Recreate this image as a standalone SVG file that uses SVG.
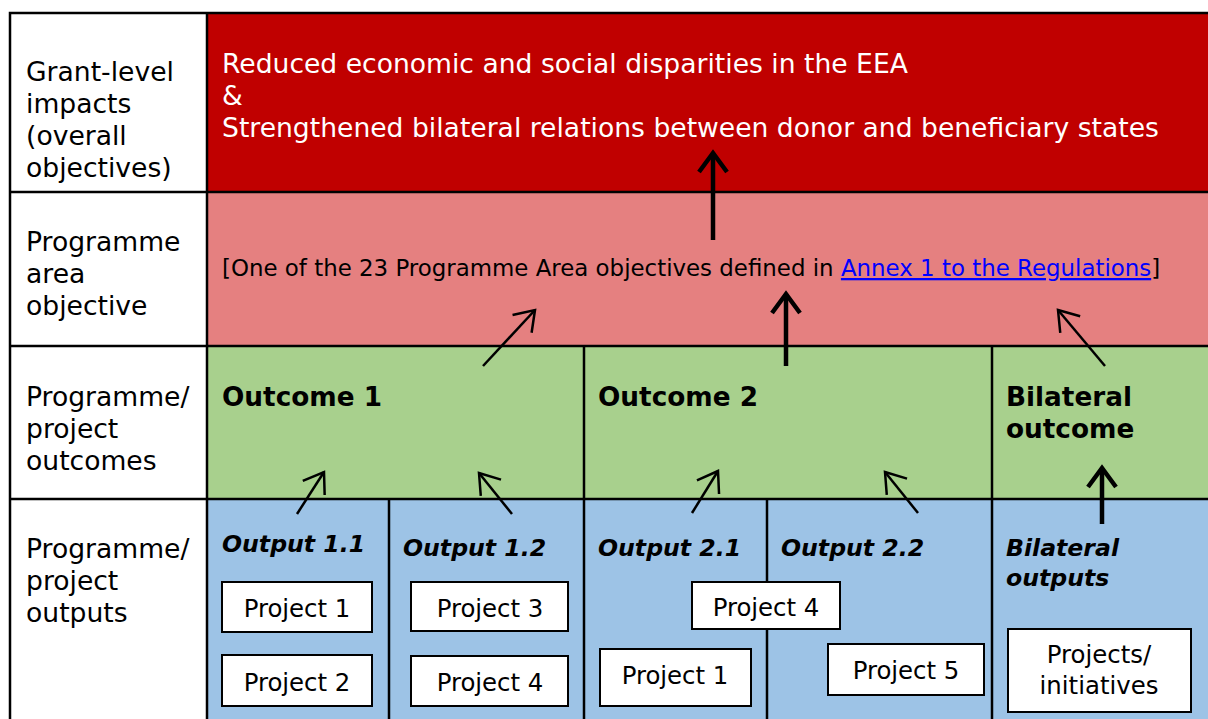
<svg xmlns="http://www.w3.org/2000/svg" width="1208" height="719" viewBox="0 0 1208 719">
<style>
.lbl{font-family:"DejaVu Sans","Liberation Sans",sans-serif;font-size:26.6px;fill:#000}
.hdr{font-family:"DejaVu Sans","Liberation Sans",sans-serif;font-size:26.6px;fill:#fff}
.pa{font-family:"DejaVu Sans","Liberation Sans",sans-serif;font-size:22.9px;fill:#000}
.link{fill:#0000ff;text-decoration:underline}
.bold{font-family:"DejaVu Sans","Liberation Sans",sans-serif;font-size:26.3px;font-weight:bold;fill:#000}
.bi{font-family:"DejaVu Sans","Liberation Sans",sans-serif;font-size:23.6px;font-weight:bold;font-style:italic;fill:#000}
.proj{font-family:"DejaVu Sans","Liberation Sans",sans-serif;font-size:24.4px;fill:#000;text-anchor:middle}
.box{fill:#fff;stroke:#000;stroke-width:2}
.grid{stroke:#000;stroke-width:2.5;fill:none}
.thin{stroke:#000;stroke-width:2.5;fill:none;marker-end:url(#ah)}
.thick{stroke:#000;stroke-width:4.5;fill:none;marker-end:url(#ahk)}
</style>
<defs>
<marker id="ah" markerUnits="userSpaceOnUse" viewBox="-25 -16 30 32" refX="0" refY="0" markerWidth="30" markerHeight="32" orient="auto" overflow="visible">
<path d="M-19,-13 L0,0 L-19,13" fill="none" stroke="#000" stroke-width="2.5"/>
</marker>
<marker id="ahk" markerUnits="userSpaceOnUse" viewBox="-25 -16 30 32" refX="0" refY="0" markerWidth="30" markerHeight="32" orient="auto" overflow="visible">
<path d="M-19,-14 L0,0 L-19,14" fill="none" stroke="#000" stroke-width="4.5"/>
</marker>
</defs>
<rect width="1208" height="719" fill="#fff"/>
<g id="bands">
<rect x="207" y="13" width="1001" height="179" fill="#C00000"/>
<rect x="207" y="192" width="1001" height="154" fill="#E58080"/>
<rect x="207" y="346" width="1001" height="153" fill="#A8D08D"/>
<rect x="207" y="499" width="1001" height="220" fill="#9DC3E6"/>
</g>
<g id="gridlines">
<path class="grid" d="M1208,13 H10 V719 M207,13 V719 M10,192 H1208 M10,346 H1208 M10,499 H1208 M584,346 V719 M992,346 V719 M389,499 V719 M767,499 V719"/>
</g>
<g id="row-labels">
<text class="lbl" x="26" y="81">Grant-level</text>
<text class="lbl" x="26" y="113">impacts</text>
<text class="lbl" x="26" y="145">(overall</text>
<text class="lbl" x="26" y="177">objectives)</text>
<text class="lbl" x="26" y="251">Programme</text>
<text class="lbl" x="26" y="283">area</text>
<text class="lbl" x="26" y="315">objective</text>
<text class="lbl" x="26" y="406">Programme/</text>
<text class="lbl" x="26" y="438">project</text>
<text class="lbl" x="26" y="470">outcomes</text>
<text class="lbl" x="26" y="558">Programme/</text>
<text class="lbl" x="26" y="590">project</text>
<text class="lbl" x="26" y="622">outputs</text>
</g>
<g id="impact">
<text class="hdr" x="222" y="73">Reduced economic and social disparities in the EEA</text>
<text class="hdr" x="222" y="105">&amp;</text>
<text class="hdr" x="222" y="137">Strengthened bilateral relations between donor and beneficiary states</text>
</g>
<g id="pa-objective">
<text class="pa" x="222" y="276">[One of the 23 Programme Area objectives defined in <tspan class="link">Annex 1 to the Regulations</tspan>]</text>
</g>
<g id="outcome1"><text class="bold" x="222" y="406">Outcome 1</text></g>
<g id="outcome2"><text class="bold" x="598" y="406">Outcome 2</text></g>
<g id="bilateral-outcome"><text class="bold" x="1006" y="406">Bilateral</text><text class="bold" x="1006" y="438">outcome</text></g>
<g id="output11"><text class="bi" x="222" y="552">Output 1.1</text></g>
<g id="output12"><text class="bi" x="403" y="556">Output 1.2</text></g>
<g id="output21"><text class="bi" x="598" y="556">Output 2.1</text></g>
<g id="output22"><text class="bi" x="781" y="556">Output 2.2</text></g>
<g id="bilateral-outputs"><text class="bi" x="1006" y="556">Bilateral</text><text class="bi" x="1006" y="586">outputs</text></g>
<g id="p1a"><rect class="box" x="222" y="582" width="150" height="50"/><text class="proj" x="297" y="617">Project 1</text></g>
<g id="p2"><rect class="box" x="222" y="655" width="150" height="51"/><text class="proj" x="297" y="691">Project 2</text></g>
<g id="p3"><rect class="box" x="411" y="582" width="157" height="49"/><text class="proj" x="490" y="617">Project 3</text></g>
<g id="p4a"><rect class="box" x="411" y="656" width="157" height="50"/><text class="proj" x="490" y="691">Project 4</text></g>
<g id="p4b"><rect class="box" x="692" y="582" width="148" height="47"/><text class="proj" x="766" y="616">Project 4</text></g>
<g id="p1b"><rect class="box" x="600" y="649" width="151" height="57"/><text class="proj" x="675" y="684">Project 1</text></g>
<g id="p5"><rect class="box" x="828" y="644" width="156" height="51"/><text class="proj" x="906" y="679">Project 5</text></g>
<g id="pinit"><rect class="box" x="1008" y="629" width="183" height="83"/><text class="proj" x="1099" y="663">Projects/</text><text class="proj" x="1099" y="694">initiatives</text></g>
<g id="connectors">
<path class="thick" d="M713,240 V153"/>
<path class="thick" d="M786,366 V294"/>
<path class="thin" d="M483,366 L535,310"/>
<path class="thin" d="M1105,366 L1058,310"/>
<path class="thin" d="M297,514 L324,472"/>
<path class="thin" d="M512,514 L479,473"/>
<path class="thin" d="M692,513 L718,471"/>
<path class="thin" d="M918,513 L885,472"/>
<path class="thick" d="M1102,524 V468"/>
</g>
</svg>
